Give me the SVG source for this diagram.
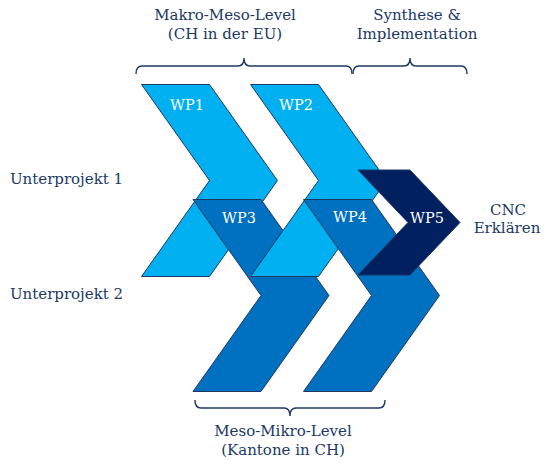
<svg xmlns="http://www.w3.org/2000/svg" width="550" height="469" viewBox="0 0 550 469">
<style>
  .lbl { font-family: "DejaVu Serif", "Liberation Serif", serif; font-size: 15px; fill: #203864; text-anchor: middle; }
  .wp { font-family: "DejaVu Serif", "Liberation Serif", serif; font-size: 14.5px; fill: #ffffff; text-anchor: middle; }
  .shape { stroke: #1F3864; stroke-width: 1; stroke-linejoin: miter; }
  .light { fill: #00B0F0; }
  .mid { fill: #0070C0; }
  .dark { fill: #002060; }
  .brace { fill: none; stroke: #1F3864; stroke-width: 1.4; }
</style>
<defs>
  <path id="big" d="M0,0 L68,0 L136,96 L68,192 L0,192 L68,96 Z"/>
  <path id="small" d="M0,0 L52,0 L102,52.5 L52,105 L0,105 L50,52.5 Z"/>
</defs>
<rect width="550" height="469" fill="#ffffff"/>

<g id="WP1">
  <use href="#big" class="shape light" transform="translate(141.5,84.5)"/>
  <text class="wp" x="187" y="110">WP1</text>
</g>
<g id="WP3">
  <use href="#big" class="shape mid" transform="translate(193,199.5)"/>
  <text class="wp" x="239" y="223">WP3</text>
</g>
<g id="WP2">
  <use href="#big" class="shape light" transform="translate(250.5,84.5)"/>
  <text class="wp" x="296" y="110">WP2</text>
</g>
<g id="WP4">
  <use href="#big" class="shape mid" transform="translate(303.5,199.5)"/>
  <text class="wp" x="350" y="222">WP4</text>
</g>
<g id="WP5">
  <use href="#small" class="shape dark" transform="translate(358,170)"/>
  <text class="wp" x="427" y="223">WP5</text>
</g>

<g id="braces">
  <path class="brace" d="M136,74 Q136,66 142,66 H238 Q244,66 244,58 Q244,66 250,66 H346 Q352,66 352,74"/>
  <path class="brace" d="M353,74 Q353,66 359,66 H404 Q410,66 410,58 Q410,66 416,66 H461 Q467,66 467,74"/>
  <path class="brace" d="M195,400 Q195,408 201,408 H284 Q290,408 290,416 Q290,408 296,408 H379 Q385,408 385,400"/>
</g>

<g id="labels">
  <text class="lbl" x="225" y="20">Makro-Meso-Level</text>
  <text class="lbl" x="225" y="39">(CH in der EU)</text>
  <text class="lbl" x="417" y="20">Synthese &amp;</text>
  <text class="lbl" x="417" y="39">Implementation</text>
  <text class="lbl" x="66.5" y="184">Unterprojekt 1</text>
  <text class="lbl" x="66.5" y="299">Unterprojekt 2</text>
  <text class="lbl" x="508" y="215">CNC</text>
  <text class="lbl" x="507" y="233">Erklären</text>
  <text class="lbl" x="283" y="436">Meso-Mikro-Level</text>
  <text class="lbl" x="283" y="455">(Kantone in CH)</text>
</g>
</svg>
